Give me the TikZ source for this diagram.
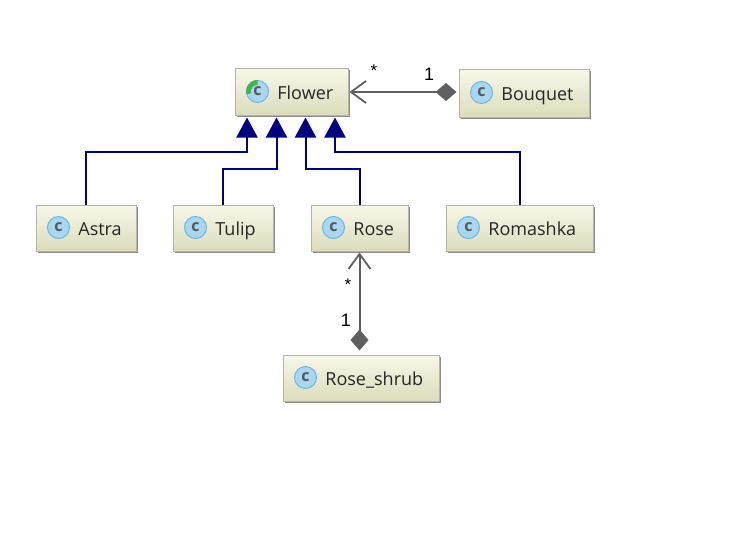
\documentclass[tikz,border=0pt]{standalone}
\usepackage{fontspec}
\setmainfont{Open Sans}
\newfontfamily\multfont{Liberation Sans}
\usetikzlibrary{arrows.meta,calc,shadows}
\definecolor{navyline}{HTML}{000080}
\definecolor{assoc}{HTML}{5F5F5F}
\definecolor{boxtop}{HTML}{F7F7E9}
\definecolor{boxbot}{HTML}{DCDCBB}
\definecolor{boxline}{HTML}{B4B4A8}
\definecolor{iconfill}{HTML}{A9D6F0}
\definecolor{iconedge}{HTML}{6DB6E4}
\definecolor{icongreen}{HTML}{3FB54A}
\tikzset{
  x=1pt,y=-1pt,
  classbox/.style={rectangle,draw=boxline,line width=1pt,top color=boxtop,bottom color=boxbot,
    anchor=north west,inner sep=0pt,drop shadow={shadow xshift=1.5pt,shadow yshift=-1.5pt,fill=black!45,opacity=1}},
  classname/.style={anchor=base west,inner sep=0pt,font=\fontsize{18}{20}\selectfont,text=black!85},
  classicon/.style={circle,draw=iconedge,fill=iconfill,line width=1pt,minimum size=22pt,inner sep=0pt},
  iconletter/.style={inner sep=0pt,font=\fontsize{16}{16}\bfseries\selectfont,text=black!65},
  inherit/.style={draw=navyline,line width=2pt,-{Triangle[length=20pt,width=21pt,fill=navyline]}},
  composed/.style={draw=assoc,line width=2pt,{Diamond[length=21pt,width=18pt,fill=assoc]}-{Straight Barb[length=15pt,width=22pt,line width=1.8pt]}},
  mult/.style={inner sep=0pt,text=black,font=\multfont\fontsize{18}{20}\selectfont},
  multstar/.style={inner sep=0pt,text=black,font=\multfont\fontsize{17}{20}\selectfont},
}
\newcommand{\umlclass}[6]{%
  \node[classbox,minimum width=#4pt,minimum height=#5pt] (#1) at (#2,#3) {};
  \node[classicon] (#1-icon) at ($(#2,#3)+(23,23)$) {};
  \node[iconletter] (#1-letter) at (#1-icon.center) {c};
  \node[classname] (#1-name) at ($(#2,#3)+(42.7,31)$) {#6};
}
\begin{document}
\begin{tikzpicture}
\useasboundingbox (0,0) rectangle (744,543);
\fill[white] (0,0) rectangle (744,543);
\umlclass{flower}{234.5}{68.5}{113}{46}{Flower}
\umlclass{bouquet}{458.5}{69.5}{130}{47}{Bouquet}
\umlclass{astra}{35.5}{204.5}{100}{46}{Astra}
\umlclass{tulip}{172.5}{204.5}{100}{46}{Tulip}
\umlclass{rose}{310.5}{204.5}{97}{46}{Rose}
\umlclass{romashka}{445.5}{204.5}{147}{46}{Romashka}
\umlclass{shrub}{282.5}{354.5}{156}{46}{Rose\_shrub}
% green arc on the Flower icon
\fill[icongreen] (flower-icon.center) -- (flower-icon.north) arc[start angle=90,end angle=195,radius=11.5pt] -- cycle;
\fill[iconfill] (flower-icon.center) circle[radius=6.5pt];
\node[iconletter] (flower-c) at (flower-icon.center) {c};
% attachment points under Flower
\coordinate (f1) at ($(flower.south west)+(12.5,2)$);
\coordinate (f2) at ($(flower.south west)+(42,2)$);
\coordinate (f3) at ($(flower.south west)+(71,2)$);
\coordinate (f4) at ($(flower.south west)+(100.5,2)$);
\draw[inherit] (astra.north) |- ($(f1)+(0,34)$) -- (f1);
\draw[inherit] (tulip.north) |- ($(f2)+(0,51)$) -- (f2);
\draw[inherit] (rose.north) |- ($(f3)+(0,51)$) -- (f3);
\draw[inherit] (romashka.north) |- ($(f4)+(0,34)$) -- (f4);
% compositions
\draw[composed] ($(bouquet.west |- flower.east)+(-2,0)$) -- ($(flower.east)+(1,0)$);
\draw[composed] ($(rose.south |- shrub.north)+(0,-4)$) -- ($(rose.south)+(0,1)$);
\node[multstar] (m1) at (374,71) {*};
\node[mult] (m2) at (429,74) {1};
\node[multstar] (m3) at (348,285) {*};
\node[mult] (m4) at (346,320) {1};
\end{tikzpicture}
\end{document}
